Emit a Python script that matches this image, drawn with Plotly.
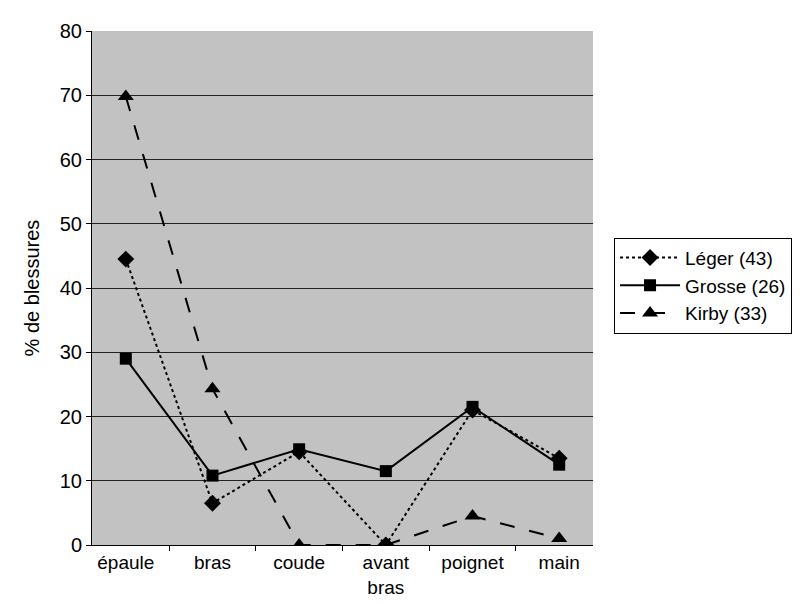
import plotly.graph_objects as go

categories = ["épaule", "bras", "coude", "avant<br>bras", "poignet", "main"]
leger = [44.5, 6.5, 14.5, 0, 21, 13.5]
grosse = [29, 10.8, 14.9, 11.5, 21.5, 12.5]
kirby = [69.8, 24.3, 0, 0, 4.5, 1]
y_ticks = [0, 10, 20, 30, 40, 50, 60, 70, 80]

series = [
    ("Léger (43)", leger, "dot", "diamond", 13),
    ("Grosse (26)", grosse, "solid", "square", 12),
    ("Kirby (33)", kirby, "longdash", "triangle-up", 14),
]

fig = go.Figure()

for name, vals, dash, symbol, msize in series:
    fig.add_trace(go.Scatter(
        x=categories, y=vals, name=name, mode="lines+markers",
        line=dict(color="black", width=2, dash=dash),
        marker=dict(symbol=symbol, size=msize, color="black"),
    ))

fig.update_layout(
    width=812, height=604,
    margin=dict(l=84, r=227, t=20, b=67),
    plot_bgcolor="#c2c2c2",
    paper_bgcolor="white",
    font=dict(family="Liberation Sans, Arial, sans-serif", size=19, color="black"),
    legend=dict(
        x=1.042, y=0.598, xanchor="left", yanchor="top",
        bgcolor="white", bordercolor="black", borderwidth=1,
        font=dict(size=19), itemwidth=60, tracegroupgap=4,
    ),
    xaxis=dict(
        type="category", tickson="boundaries", ticks="outside", ticklen=5,
        tickcolor="black", showline=True, linecolor="black", linewidth=1,
        showgrid=False, zeroline=False, tickfont=dict(size=19),
    ),
    yaxis=dict(
        range=[0, 80], tickvals=y_ticks, ticks="outside", ticklen=5,
        tickcolor="black", showline=True, linecolor="black", linewidth=1,
        gridcolor="#222", gridwidth=1, zeroline=False, tickfont=dict(size=20),
        title=dict(text="% de blessures", standoff=14, font=dict(size=20)),
    ),
)

fig.write_html("out.html")
